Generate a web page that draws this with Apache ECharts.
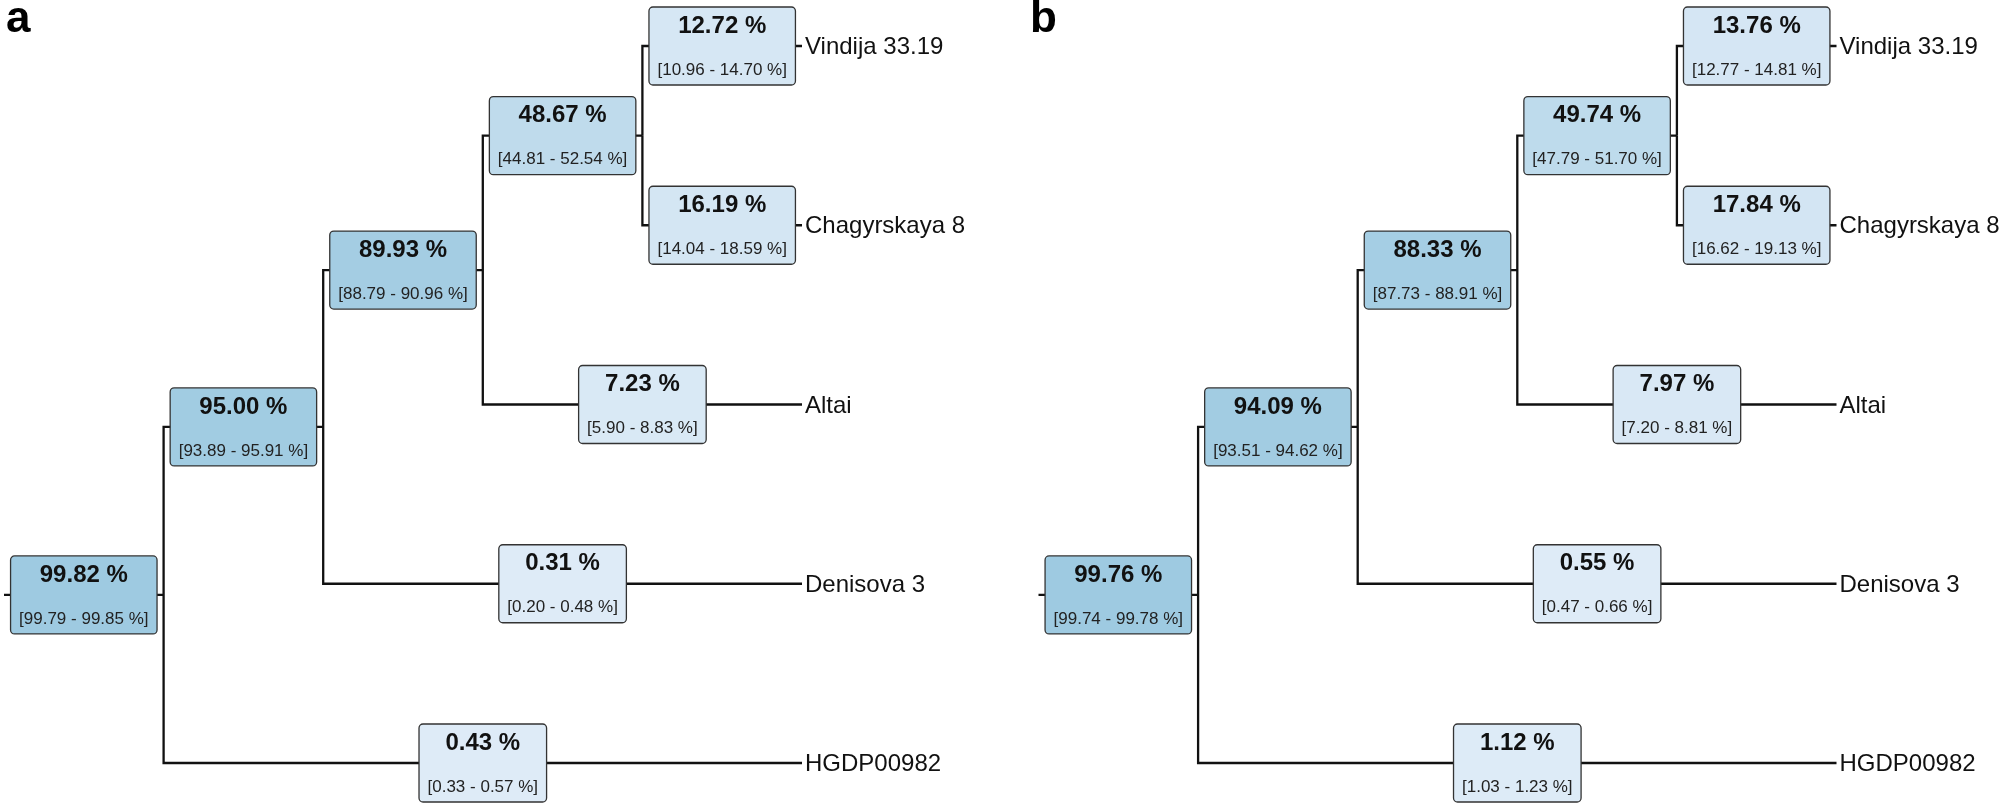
<!DOCTYPE html>
<html>
<head>
<meta charset="utf-8">
<script src="https://cdn.jsdelivr.net/npm/echarts@6/dist/echarts.min.js"></script>
<style>
html,body{margin:0;padding:0;background:#fff;}
#chart{width:2007px;height:810px;}
</style>
</head>
<body>
<div id="chart"></div>
<script>
// ---- Data ----
// Tree: ((((Vindija 33.19, Chagyrskaya 8), Altai), Denisova 3), HGDP00982)
const edgeNames = ['root', 'cladeNea', 'cladeNeaAltai', 'cladeVC', 'Vindija 33.19', 'Chagyrskaya 8', 'Altai', 'Denisova 3', 'HGDP00982'];
const edgeParent = [-1, 0, 1, 2, 3, 3, 2, 1, 0];
const leafOrder = ['Vindija 33.19', 'Chagyrskaya 8', 'Altai', 'Denisova 3', 'HGDP00982'];

const aValue = [99.82, 95.00, 89.93, 48.67, 12.72, 16.19, 7.23, 0.31, 0.43];
const aLow   = [99.79, 93.89, 88.79, 44.81, 10.96, 14.04, 5.90, 0.20, 0.33];
const aHigh  = [99.85, 95.91, 90.96, 52.54, 14.70, 18.59, 8.83, 0.48, 0.57];

const bValue = [99.76, 94.09, 88.33, 49.74, 13.76, 17.84, 7.97, 0.55, 1.12];
const bLow   = [99.74, 93.51, 87.73, 47.79, 12.77, 16.62, 7.20, 0.47, 1.03];
const bHigh  = [99.78, 94.62, 88.91, 51.70, 14.81, 19.13, 8.81, 0.66, 1.23];

const panelLabels = ['a', 'b'];

// ---- Layout from topology ----
const n = edgeNames.length;
const children = edgeNames.map(() => []);
edgeParent.forEach((p, i) => { if (p >= 0) children[p].push(i); });
const depth = new Array(n).fill(0);
(function setDepth(i, d) { depth[i] = d; children[i].forEach(c => setDepth(c, d + 1)); })(0, 1);
const maxDepth = Math.max(...depth);
const yPos = new Array(n).fill(0);
(function setY(i) {
  if (children[i].length === 0) { yPos[i] = leafOrder.indexOf(edgeNames[i]); return yPos[i]; }
  const ys = children[i].map(setY);
  yPos[i] = ys.reduce((s, v) => s + v, 0) / ys.length;
  return yPos[i];
})(0);
// leaves extend to the tip
edgeNames.forEach((nm, i) => { if (children[i].length === 0) depth[i] = maxDepth; });

function buildData(vals, lows, highs) {
  return edgeNames.map((nm, i) => {
    const p = edgeParent[i];
    const x0 = p < 0 ? 0 : depth[p];
    const py = p < 0 ? yPos[i] : yPos[p];
    return [x0, depth[i], yPos[i], py, vals[i], lows[i], highs[i], children[i].length === 0 ? 1 : 0, nm];
  });
}

const FONT = '"Liberation Sans", Arial, Helvetica, sans-serif';
const mctx = document.createElement('canvas').getContext('2d');
function textW(t, font) { mctx.font = font; return mctx.measureText(t).width; }

function renderLines(params, api) {
  const a = api.coord([api.value(0), api.value(3)]);
  const b = api.coord([api.value(0), api.value(2)]);
  const c = api.coord([api.value(1), api.value(2)]);
  return {
    type: 'polyline',
    shape: { points: [a, b, c] },
    style: { stroke: '#111', lineWidth: 2.3, fill: null, lineJoin: 'miter' }
  };
}

function renderBoxes(params, api) {
  const p0 = api.coord([api.value(0), api.value(2)]);
  const p1 = api.coord([api.value(1), api.value(2)]);
  const cx = (p0[0] + p1[0]) / 2, cy = p0[1];
  const v = api.value(4), lo = api.value(5), hi = api.value(6);
  const t1 = v.toFixed(2) + ' %';
  const t2 = '[' + lo.toFixed(2) + ' - ' + hi.toFixed(2) + ' %]';
  const f1 = 'bold 24px ' + FONT, f2 = '17px ' + FONT;
  const w = Math.max(textW(t1, f1), textW(t2, f2)) + 17;
  const h = 78;
  return {
    type: 'group',
    children: [
      { type: 'rect', shape: { x: cx - w / 2, y: cy - h / 2, width: w, height: h, r: 4 },
        style: { fill: api.visual('color'), stroke: '#333', lineWidth: 1.3 } },
      { type: 'text', style: { text: t1, x: cx, y: cy - 20, font: f1, fill: '#111', align: 'center', verticalAlign: 'middle' } },
      { type: 'text', style: { text: t2, x: cx, y: cy + 24, font: f2, fill: '#222', align: 'center', verticalAlign: 'middle' } }
    ]
  };
}

function renderLabels(params, api) {
  if (!api.value(7)) return null;
  const p = api.coord([api.value(1), api.value(2)]);
  return { type: 'text', style: { text: edgeNames[params.dataIndex], x: p[0] + 3, y: p[1] + 1.5, font: '24px ' + FONT, fill: '#111', align: 'left', verticalAlign: 'middle' } };
}

const datasets = [buildData(aValue, aLow, aHigh), buildData(bValue, bLow, bHigh)];
const gridLefts = [4, 1038.5];

const grids = [], xAxes = [], yAxes = [], series = [];
datasets.forEach((d, k) => {
  grids.push({ left: gridLefts[k], top: 46, width: 798, height: 717, containLabel: false });
  xAxes.push({ type: 'value', gridIndex: k, min: 0, max: maxDepth, show: false });
  yAxes.push({ type: 'value', gridIndex: k, min: 0, max: leafOrder.length - 1, inverse: true, show: false });
  const common = { type: 'custom', coordinateSystem: 'cartesian2d', xAxisIndex: k, yAxisIndex: k, data: d, silent: true, animation: false,
    encode: { x: [0, 1], y: [2, 3] } };
  series.push(Object.assign({}, common, { renderItem: renderLines, z: 1 }));
  series.push(Object.assign({}, common, { renderItem: renderBoxes, z: 2 }));
  series.push(Object.assign({}, common, { renderItem: renderLabels, z: 3 }));
});

const chart = echarts.init(document.getElementById('chart'), null, { renderer: 'canvas' });
chart.setOption({
  backgroundColor: '#ffffff',
  animation: false,
  grid: grids,
  xAxis: xAxes,
  yAxis: yAxes,
  visualMap: {
    type: 'continuous', show: false, min: 0, max: 100, dimension: 4, seriesIndex: [1, 4],
    inRange: { color: ['#deebf7', '#9ecae1'] }
  },
  graphic: panelLabels.map((t, k) => ({
    type: 'text', x: [6, 1030][k], y: 20,
    style: { text: t, font: 'bold 44px ' + FONT, fill: '#000', verticalAlign: 'middle' }
  })),
  series: series
});
</script>
</body>
</html>
